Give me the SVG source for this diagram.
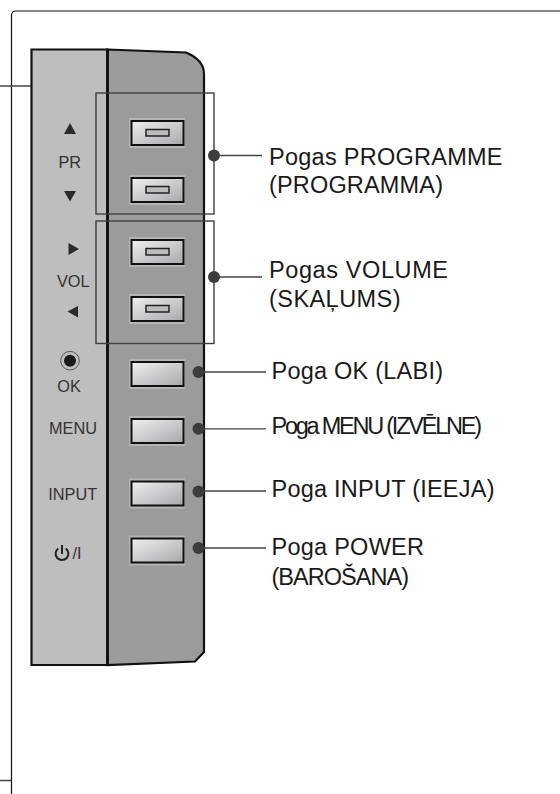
<svg xmlns="http://www.w3.org/2000/svg" width="560" height="794" viewBox="0 0 560 794">
<defs>
<linearGradient id="bg" x1="0" y1="0" x2="1" y2="1"><stop offset="0" stop-color="#f0f0f0"/><stop offset="1" stop-color="#a6a8aa"/></linearGradient>
<g id="btn"><rect x="129" y="-3" width="56" height="30" fill="#b4b4b4"/><rect x="131.500" y="0" width="52" height="24" fill="url(#bg)" stroke="#111" stroke-width="2"/></g>
<g id="slot"><rect x="146" y="8.500" width="23" height="6.500" fill="#bcbcbc" stroke="#222" stroke-width="1.500"/></g>
</defs>
<style>
.lb{font-family:"Liberation Sans",Arial,sans-serif;font-size:23.500px;fill:#1a1a1a}
.pl{font-family:"Liberation Sans",Arial,sans-serif;font-size:16.300px;fill:#333;text-anchor:middle}
.ln{stroke:#444;stroke-width:1.300;fill:none}
.dot{fill:#3c3c3c}
.br{fill:none;stroke:#3f3f3f;stroke-width:1.400}
</style>
<rect width="560" height="794" fill="#fff"/>
<g id="frame"><path d="M560 11H16Q11.500 11 11.500 15.500V794" fill="none" stroke="#111" stroke-width="1.200"/></g>
<g id="panel">
<path d="M31.500 49.500H107.500V665H31.500Z" fill="#bebebe" stroke="#111" stroke-width="2.200"/>
<path d="M107.500 49.500L186 52.500Q204 60 204 74V652L195 661.500L107.500 665Z" fill="#9b9b9b" stroke="#111" stroke-width="2.200"/>
<line x1="107.500" y1="49.500" x2="107.500" y2="665" stroke="#111" stroke-width="2.800"/>
</g>
<g id="panel-labels">
<path d="M70 123L64 134H76Z M64 191H76L70 201.500Z M68.500 243L79 249L68.500 255Z M78 306V317.500L67.500 311.500Z" fill="#2a2a2a"/>
<text class="pl" x="69.700" y="168">PR</text>
<text class="pl" x="73.300" y="287">VOL</text>
<circle cx="70" cy="360.700" r="9.300" fill="none" stroke="#555" stroke-width="1"/><circle cx="70" cy="360.700" r="6" fill="#1a1a1a"/>
<text class="pl" x="69" y="391.500">OK</text>
<text class="pl" x="73" y="434">MENU</text>
<text class="pl" x="72.700" y="500">INPUT</text>
<path d="M58.300 548.500A6.400 6.400 0 1 0 65.700 548.500M62 545V554" fill="none" stroke="#222" stroke-width="2"/>
<text class="pl" x="77" y="559">/I</text>
</g>
<g id="button-pr-up"><use href="#btn" y="121"/><use href="#slot" y="121"/></g>
<g id="button-pr-down"><use href="#btn" y="178"/><use href="#slot" y="178"/></g>
<g id="button-vol-up"><use href="#btn" y="240"/><use href="#slot" y="240"/></g>
<g id="button-vol-down"><use href="#btn" y="297"/><use href="#slot" y="297"/></g>
<g id="button-ok"><use href="#btn" y="362"/></g>
<g id="button-menu"><use href="#btn" y="419"/></g>
<g id="button-input"><use href="#btn" y="481.500"/></g>
<g id="button-power"><use href="#btn" y="538.500"/></g>
<g id="bracket-programme"><rect class="br" x="96" y="93" width="118" height="121"/></g>
<g id="bracket-volume"><rect class="br" x="96" y="221" width="118" height="122.500"/></g>
<g id="connectors">
<path class="ln" d="M0 86H31M0 780.500H11M214 155.500H262M214 277H262M198.500 372H266M198.500 428.800H266M198.500 491H266M198.500 548H266"/>
<circle class="dot" cx="214" cy="155.500" r="6"/><circle class="dot" cx="214" cy="277" r="6"/>
<circle class="dot" cx="198.500" cy="372" r="6"/><circle class="dot" cx="198.500" cy="428.800" r="6"/>
<circle class="dot" cx="198.500" cy="491.500" r="6"/><circle class="dot" cx="198.500" cy="548" r="6"/>
</g>
<g id="label-programme"><text class="lb" x="269" y="165" textLength="233.500">Pogas PROGRAMME</text><text class="lb" x="269" y="193" textLength="174">(PROGRAMMA)</text></g>
<g id="label-volume"><text class="lb" x="269" y="277.500" textLength="179">Pogas VOLUME</text><text class="lb" x="269" y="306.500" textLength="131.500">(SKAĻUMS)</text></g>
<g id="label-ok"><text class="lb" x="271.500" y="378.500" textLength="171.500">Poga OK (LABI)</text></g>
<g id="label-menu"><text class="lb" x="271.500" y="434" textLength="210.500">Poga MENU (IZVĒLNE)</text></g>
<g id="label-input"><text class="lb" x="271.500" y="497" textLength="223">Poga INPUT (IEEJA)</text></g>
<g id="label-power"><text class="lb" x="271.500" y="555" textLength="152.500">Poga POWER</text><text class="lb" x="271.500" y="585" textLength="137.500">(BAROŠANA)</text></g>
</svg>
